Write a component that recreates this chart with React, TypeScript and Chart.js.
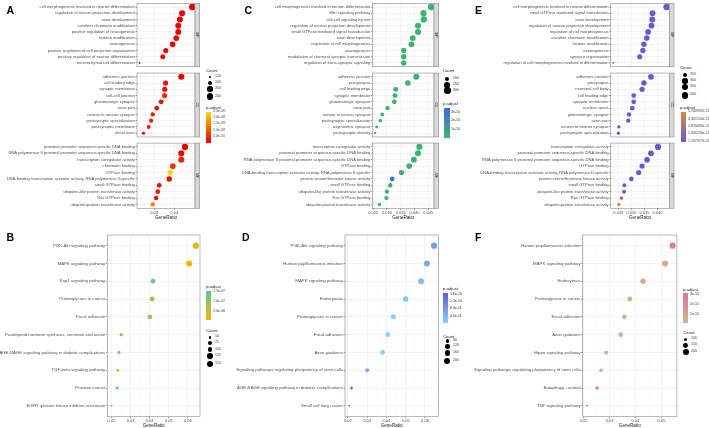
import React, { useEffect, useRef } from 'react';
import { Chart, registerables } from 'chart.js';
Chart.register(...registerables);

const FONT = '"Liberation Sans", Arial, Helvetica, sans-serif';

// ================= Panel A (GO) =================
const A_BP_TERMS = ['cell morphogenesis involved in neuron differentiation', 'regulation of neuron projection development', 'axon development', 'covalent chromatin modification', 'positive regulation of neurogenesis', 'histone modification', 'axonogenesis', 'positive regulation of cell projection organization', 'positive regulation of neuron differentiation', 'mesenchymal cell differentiation'];
const A_BP_RATIO = [0.0490, 0.0439, 0.0428, 0.0420, 0.0420, 0.0410, 0.0392, 0.0358, 0.0343, 0.0228];
const A_BP_COUNT = [245, 220, 214, 210, 210, 205, 196, 179, 172, 114];
const A_BP_PADJ = [2e-12, 3e-11, 2e-11, 5e-11, 6e-11, 8e-11, 1e-10, 1.5e-10, 2e-10, 2.5e-10];

const A_CC_TERMS = ['adherens junction', 'cell leading edge', 'synaptic membrane', 'cell-cell junction', 'glutamatergic synapse', 'axon part', 'neuron to neuron synapse', 'postsynaptic specialization', 'postsynaptic membrane', 'distal axon'];
const A_CC_RATIO = [0.0435, 0.0357, 0.0353, 0.0352, 0.0335, 0.0313, 0.0293, 0.0285, 0.0273, 0.0247];
const A_CC_COUNT = [218, 179, 177, 176, 168, 157, 147, 143, 137, 124];
const A_CC_PADJ = [1e-11, 2e-10, 2e-10, 5e-10, 2e-10, 2e-10, 2.5e-10, 2.5e-10, 3e-10, 3e-10];

const A_MF_TERMS = ['proximal promoter sequence-specific DNA binding', 'RNA polymerase II proximal promoter sequence-specific DNA binding', 'transcription coregulator activity', 'chromatin binding', 'GTPase binding', 'DNA-binding transcription activator activity, RNA polymerase II-specific', 'small GTPase binding', 'ubiquitin-like protein transferase activity', 'Ras GTPase binding', 'ubiquitin-protein transferase activity'];
const A_MF_RATIO = [0.0453, 0.0435, 0.0435, 0.0393, 0.0380, 0.0375, 0.0325, 0.0318, 0.0310, 0.0293];
const A_MF_COUNT = [227, 218, 218, 197, 190, 188, 163, 159, 155, 147];
const A_MF_PADJ = [1e-12, 5e-12, 4e-10, 6e-10, 2.55e-9, 1.5e-10, 2e-10, 3e-10, 3e-10, 1.5e-9];

const A_XTICKS = [0.03, 0.04];
const A_COUNT_LEGEND = [120, 160, 200, 240];
const A_P_LEGEND = [2.5e-9, 2.0e-9, 1.5e-9, 1.0e-9, 5.0e-10];

// ================= Panel C (GO) =================
const C_BP_TERMS = ['cell morphogenesis involved in neuron differentiation', 'Wnt signaling pathway', 'cell-cell signaling by wnt', 'regulation of neuron projection development', 'small GTPase mediated signal transduction', 'axon development', 'regulation of cell morphogenesis', 'axonogenesis', 'modulation of chemical synaptic transmission', 'regulation of trans-synaptic signaling'];
const C_BP_RATIO = [0.0461, 0.0433, 0.0434, 0.0413, 0.0413, 0.0394, 0.0389, 0.0361, 0.0361, 0.0361];
const C_BP_COUNT = [300, 281, 282, 268, 268, 256, 253, 235, 235, 235];
const C_BP_PADJ = [1e-13, 2e-12, 2e-12, 4e-12, 5e-12, 8e-12, 1e-11, 1.5e-11, 1.6e-11, 1.8e-11];

const C_CC_TERMS = ['adherens junction', 'presynapse', 'cell leading edge', 'synaptic membrane', 'glutamatergic synapse', 'axon part', 'neuron to neuron synapse', 'postsynaptic specialization', 'asymmetric synapse', 'postsynaptic density'];
const C_CC_RATIO = [0.0407, 0.0376, 0.0332, 0.0329, 0.0327, 0.0302, 0.0283, 0.0276, 0.0263, 0.0257];
const C_CC_COUNT = [265, 244, 216, 214, 213, 196, 184, 179, 171, 167];
const C_CC_PADJ = [1e-12, 5e-12, 1e-11, 1e-11, 1.2e-11, 1.5e-11, 1.8e-11, 2e-11, 2.2e-11, 2.5e-11];

const C_MF_TERMS = ['transcription coregulator activity', 'proximal promoter sequence-specific DNA binding', 'RNA polymerase II proximal promoter sequence-specific DNA binding', 'GTPase binding', 'DNA-binding transcription activator activity, RNA polymerase II-specific', 'protein serine/threonine kinase activity', 'small GTPase binding', 'ubiquitin-like protein transferase activity', 'Ras GTPase binding', 'ubiquitin-protein transferase activity'];
const C_MF_RATIO = [0.0418, 0.0413, 0.0398, 0.0381, 0.0353, 0.0319, 0.0312, 0.0300, 0.0298, 0.0273];
const C_MF_COUNT = [272, 268, 259, 248, 229, 207, 203, 195, 194, 177];
const C_MF_PADJ = [2e-12, 3e-12, 5e-12, 1e-11, 1.5e-11, 3.5e-10, 2e-11, 2.5e-11, 2.5e-11, 3e-11];

const C_XTICKS = [0.025, 0.03, 0.035, 0.04, 0.045];
const C_COUNT_LEGEND = [200, 250, 300];
const C_P_LEGEND = [3e-10, 2e-10, 1e-10];

// ================= Panel E (GO) =================
const E_BP_TERMS = ['cell morphogenesis involved in neuron differentiation', 'small GTPase mediated signal transduction', 'axon development', 'regulation of neuron projection development', 'regulation of cell morphogenesis', 'covalent chromatin modification', 'histone modification', 'axonogenesis', 'synapse organization', 'regulation of cell morphogenesis involved in differentiation'];
const E_BP_RATIO = [0.0435, 0.0381, 0.0380, 0.0377, 0.0364, 0.0359, 0.0348, 0.0344, 0.0332, 0.0231];
const E_BP_COUNT = [400, 351, 350, 347, 335, 330, 320, 316, 305, 213];
const E_BP_PADJ = [1.537377e-41, 2e-25, 1e-24, 3e-24, 1e-22, 2e-22, 5e-21, 1e-20, 3e-19, 2e-17];

const E_CC_TERMS = ['adherens junction', 'presynapse', 'neuronal cell body', 'cell leading edge', 'synaptic membrane', 'nuclear speck', 'glutamatergic synapse', 'axon part', 'neuron to neuron synapse', 'postsynaptic specialization'];
const E_CC_RATIO = [0.0375, 0.0348, 0.0341, 0.0309, 0.0309, 0.0303, 0.0291, 0.0288, 0.0252, 0.0250];
const E_CC_COUNT = [345, 320, 314, 284, 284, 279, 268, 265, 232, 230];
const E_CC_PADJ = [1e-30, 1e-25, 1e-24, 1e-21, 1e-21, 1e-20, 1e-19, 1e-19, 1e-17, 1e-17];

const E_MF_TERMS = ['transcription coregulator activity', 'proximal promoter sequence-specific DNA binding', 'RNA polymerase II proximal promoter sequence-specific DNA binding', 'GTPase binding', 'DNA-binding transcription activator activity, RNA polymerase II-specific', 'protein serine/threonine kinase activity', 'small GTPase binding', 'ubiquitin-like protein transferase activity', 'Ras GTPase binding', 'ubiquitin-protein transferase activity'];
const E_MF_RATIO = [0.0402, 0.0375, 0.0360, 0.0341, 0.0328, 0.0300, 0.0273, 0.0272, 0.0262, 0.0252];
const E_MF_COUNT = [370, 345, 331, 314, 302, 276, 251, 250, 241, 232];
const E_MF_PADJ = [1e-35, 1e-28, 1e-27, 1e-24, 1e-23, 1e-20, 1e-18, 1e-18, 2.6e-15, 5.740937e-15];

const E_XTICKS = [0.025, 0.03, 0.035, 0.04];
const E_COUNT_LEGEND = [250, 300, 350, 400];
const E_P_LEGEND = [5.740937e-15, 4.305703e-15, 2.870469e-15, 1.435234e-15, 1.537377e-41];

// ================= Panel B (KEGG) =================
const B_TERMS = ['PI3K-Akt signaling pathway', 'MAPK signaling pathway', 'Rap1 signaling pathway', 'Proteoglycans in cancer', 'Focal adhesion', 'Parathyroid hormone synthesis, secretion and action', 'AGE-RAGE signaling pathway in diabetic complications', 'TGF-beta signaling pathway', 'Prostate cancer', 'EGFR tyrosine kinase inhibitor resistance'];
const B_RATIO = [0.0642, 0.0607, 0.0417, 0.0413, 0.0401, 0.0251, 0.0239, 0.0233, 0.0230, 0.0200];
const B_COUNT = [151, 143, 98, 97, 94, 59, 56, 55, 54, 47];
const B_PADJ = [3e-8, 1.15e-8, 1.35e-7, 8e-8, 9e-8, 9.5e-8, 1.0e-7, 4e-8, 1.55e-7, 1.4e-7];
const B_XTICKS = [0.02, 0.03, 0.04, 0.05, 0.06];
const B_COUNT_LEGEND = [50, 75, 100, 125, 150];
const B_P_LEGEND = [1.5e-7, 1.0e-7, 5.0e-8];

// ================= Panel D (KEGG) =================
const D_TERMS = ['PI3K-Akt signaling pathway', 'Human papillomavirus infection', 'MAPK signaling pathway', 'Endocytosis', 'Proteoglycans in cancer', 'Focal adhesion', 'Axon guidance', 'Signaling pathways regulating pluripotency of stem cells', 'AGE-RAGE signaling pathway in diabetic complications', 'Small cell lung cancer'];
const D_RATIO = [0.0647, 0.0610, 0.0580, 0.0500, 0.0436, 0.0407, 0.0380, 0.0300, 0.0219, 0.0207];
const D_COUNT = [210, 198, 189, 163, 142, 132, 124, 98, 71, 67];
const D_PADJ = [8e-11, 5.5e-11, 3e-11, 1.2e-11, 4e-12, 3e-12, 5e-12, 5.5e-11, 1.7e-10, 9.5e-11];
const D_XTICKS = [0.02, 0.03, 0.04, 0.05, 0.06];
const D_COUNT_LEGEND = [80, 120, 160, 200];
const D_P_LEGEND = [1.6e-10, 1.2e-10, 8.0e-11, 4.0e-11];

// ================= Panel F (KEGG) =================
const F_TERMS = ['Human papillomavirus infection', 'MAPK signaling pathway', 'Endocytosis', 'Proteoglycans in cancer', 'Focal adhesion', 'Axon guidance', 'Hippo signaling pathway', 'Signaling pathways regulating pluripotency of stem cells', 'Autophagy - animal', 'TNF signaling pathway'];
const F_RATIO = [0.0543, 0.0514, 0.0429, 0.0378, 0.0357, 0.0343, 0.0287, 0.0267, 0.0252, 0.0213];
const F_COUNT = [217, 206, 172, 151, 143, 137, 115, 107, 101, 85];
const F_PADJ = [2.7e-10, 6e-11, 5e-11, 2e-11, 2e-11, 3e-11, 6e-11, 5e-11, 2.4e-10, 3.2e-10];
const F_XTICKS = [0.02, 0.03, 0.04, 0.05];
const F_COUNT_LEGEND = [100, 150, 200];
const F_P_LEGEND = [3e-10, 2e-10, 1e-10];

// ================= helpers =================
function hexRgb(h: string) {
  const n = parseInt(h.slice(1), 16);
  return [(n >> 16) & 255, (n >> 8) & 255, n & 255];
}
function mix(lo: string, hi: string, t: number) {
  const a = hexRgb(lo), b = hexRgb(hi);
  const c = a.map((v, i) => Math.round(v + (b[i] - v) * Math.max(0, Math.min(1, t))));
  return `rgb(${c[0]},${c[1]},${c[2]})`;
}
function sci(v: number, d: number) {
  const [m, e] = v.toExponential(d).split('e');
  const n = parseInt(e, 10);
  return `${m}e${n < 0 ? '-' : '+'}${String(Math.abs(n)).padStart(2, '0')}`;
}

function makePanel(def: any) {
  const ratios = def.facets.flatMap((f: any) => f.ratio);
  const counts = def.facets.flatMap((f: any) => f.count);
  const ps = def.facets.flatMap((f: any) => f.padj);
  const rmin = Math.min(...ratios), rmax = Math.max(...ratios);
  const ext = (rmax - rmin) * 0.05;
  const cMin = Math.min(...counts), cMax = Math.max(...counts);
  const pMin = Math.min(...ps), pMax = Math.max(...ps);
  return {
    ...def,
    xMin: rmin - ext,
    xMax: rmax + ext,
    pMin, pMax,
    color: (p: number) => mix(def.lo, def.hi, (p - pMin) / (pMax - pMin)),
    radius: (c: number) => def.rMin + (def.rMax - def.rMin) * Math.sqrt(Math.max(0, (c - cMin) / (cMax - cMin))),
  };
}

const PANEL_A = makePanel({
  facets: [
    { terms: A_BP_TERMS, ratio: A_BP_RATIO, count: A_BP_COUNT, padj: A_BP_PADJ, strip: 'BP' },
    { terms: A_CC_TERMS, ratio: A_CC_RATIO, count: A_CC_COUNT, padj: A_CC_PADJ, strip: 'CC' },
    { terms: A_MF_TERMS, ratio: A_MF_RATIO, count: A_MF_COUNT, padj: A_MF_PADJ, strip: 'MF' },
  ],
  lo: '#E60000', hi: '#FFD700', rMin: 1.0, rMax: 3.3, ticks: A_XTICKS, dec: 2,
  countLegend: A_COUNT_LEGEND, pLegend: A_P_LEGEND, pDigits: 1,
});
const PANEL_C = makePanel({
  facets: [
    { terms: C_BP_TERMS, ratio: C_BP_RATIO, count: C_BP_COUNT, padj: C_BP_PADJ, strip: 'BP' },
    { terms: C_CC_TERMS, ratio: C_CC_RATIO, count: C_CC_COUNT, padj: C_CC_PADJ, strip: 'CC' },
    { terms: C_MF_TERMS, ratio: C_MF_RATIO, count: C_MF_COUNT, padj: C_MF_PADJ, strip: 'MF' },
  ],
  lo: '#3CB371', hi: '#4169E1', rMin: 1.1, rMax: 3.3, ticks: C_XTICKS, dec: 3,
  countLegend: C_COUNT_LEGEND, pLegend: C_P_LEGEND, pDigits: 0,
});
const PANEL_E = makePanel({
  facets: [
    { terms: E_BP_TERMS, ratio: E_BP_RATIO, count: E_BP_COUNT, padj: E_BP_PADJ, strip: 'BP' },
    { terms: E_CC_TERMS, ratio: E_CC_RATIO, count: E_CC_COUNT, padj: E_CC_PADJ, strip: 'CC' },
    { terms: E_MF_TERMS, ratio: E_MF_RATIO, count: E_MF_COUNT, padj: E_MF_PADJ, strip: 'MF' },
  ],
  lo: '#6A5ACD', hi: '#D98A3A', rMin: 0.9, rMax: 3.3, ticks: E_XTICKS, dec: 3,
  countLegend: E_COUNT_LEGEND, pLegend: E_P_LEGEND, pDigits: 6,
});
const PANEL_B = makePanel({
  facets: [{ terms: B_TERMS, ratio: B_RATIO, count: B_COUNT, padj: B_PADJ }],
  lo: '#F4B400', hi: '#5CCB9C', rMin: 1.0, rMax: 3.1, ticks: B_XTICKS, dec: 2,
  countLegend: B_COUNT_LEGEND, pLegend: B_P_LEGEND, pDigits: 1,
});
const PANEL_D = makePanel({
  facets: [{ terms: D_TERMS, ratio: D_RATIO, count: D_COUNT, padj: D_PADJ }],
  lo: '#87CEFA', hi: '#6A5ACD', rMin: 1.0, rMax: 3.1, ticks: D_XTICKS, dec: 2,
  countLegend: D_COUNT_LEGEND, pLegend: D_P_LEGEND, pDigits: 1,
});
const PANEL_F = makePanel({
  facets: [{ terms: F_TERMS, ratio: F_RATIO, count: F_COUNT, padj: F_PADJ }],
  lo: '#D2B48C', hi: '#D4789A', rMin: 1.0, rMax: 3.1, ticks: F_XTICKS, dec: 2,
  countLegend: F_COUNT_LEGEND, pLegend: F_P_LEGEND, pDigits: 0,
});

// ================= layout =================
const TOP_ROWS = [
  { top: 0, h: 70, padT: 0.7, padB: 2, xH: 0 },
  { top: 70, h: 70, padT: 0.7, padB: 1.7, xH: 0 },
  { top: 140, h: 82, padT: 0.7, padB: 2.2, xH: 11.5 },
];
const BOTTOM_ROW = { top: 228, h: 200, padT: 7, padB: 0, xH: 11.5 };

const CHARTS: any[] = [];
[
  { panel: PANEL_A, left: 0, w: 206, yW: 137, padR: 11, font: 4.1 },
  { panel: PANEL_C, left: 235, w: 210, yW: 137.3, padR: 11, font: 4.1 },
  { panel: PANEL_E, left: 470, w: 210, yW: 140.7, padR: 10.7, font: 4.1 },
].forEach((col) => {
  col.panel.facets.forEach((f: any, i: number) => {
    CHARTS.push({ panel: col.panel, facet: f, left: col.left, w: col.w, yW: col.yW, padR: col.padR, font: col.font, ...TOP_ROWS[i], showX: i === 2 });
  });
});
[
  { panel: PANEL_B, left: 0, w: 205, yW: 107.3, padR: 5 },
  { panel: PANEL_D, left: 235, w: 210, yW: 110, padR: 6.7 },
  { panel: PANEL_F, left: 470, w: 210, yW: 112.7, padR: 2.7 },
].forEach((col) => {
  CHARTS.push({ panel: col.panel, facet: col.panel.facets[0], left: col.left, w: col.w, yW: col.yW, padR: col.padR, font: 4.3, ...BOTTOM_ROW, showX: true });
});

const LEGENDS = [
  { panel: PANEL_A, countTitle: [206, 70.7], dotX: 210, dotY: [77, 83, 89.3, 96.5], countLabelX: 215, pTitle: [206, 108], bar: [206, 111.7, 5, 31], pLabelX: 213 },
  { panel: PANEL_C, countTitle: [443, 71], dotX: 447.3, dotY: [79, 84.7, 90.7], countLabelX: 453, pTitle: [443, 103.5], bar: [444, 108.3, 5.5, 30], pLabelX: 451 },
  { panel: PANEL_E, countTitle: [680, 68.3], dotX: 685, dotY: [75.3, 81, 87.3, 95.3], countLabelX: 690, pTitle: [680, 108.3], bar: [680.7, 112.3, 5.3, 29.4], pLabelX: 688 },
  { panel: PANEL_B, countTitle: [206, 330.7], dotX: 210, dotY: [337.3, 343.3, 349.7, 356.3, 363.7], countLabelX: 215, pTitle: [206, 286.7], bar: [206, 291, 5, 29], pLabelX: 213 },
  { panel: PANEL_D, countTitle: [443, 336.7], dotX: 447.3, dotY: [341, 346.3, 353, 360.7], countLabelX: 453, pTitle: [443, 289.3], bar: [443.3, 293.3, 5, 30], pLabelX: 450 },
  { panel: PANEL_F, countTitle: [683, 333.3], dotX: 685.7, dotY: [339.3, 345.3, 352.3], countLabelX: 691, pTitle: [683, 289.7], bar: [683.3, 293.3, 5, 30], pLabelX: 690 },
];

const LETTERS = [
  { t: 'A', x: 6.5, y: 9.5 }, { t: 'C', x: 244.5, y: 9.5 }, { t: 'E', x: 475, y: 9.5 },
  { t: 'B', x: 6.5, y: 237 }, { t: 'D', x: 242, y: 236.5 }, { t: 'F', x: 475, y: 236.5 },
];

// ================= chart =================
function DotChart({ spec }: { spec: any }) {
  const ref = useRef<HTMLCanvasElement>(null);
  useEffect(() => {
    const { panel, facet } = spec;
    const n = facet.terms.length;
    const step = panel.ticks[1] - panel.ticks[0];
    const minors: number[] = [];
    for (let v = panel.ticks[0] - step / 2; v < panel.xMax; v += step) if (v > panel.xMin) minors.push(v);
    const allTicks = [...panel.ticks, ...minors].sort((a, b) => a - b);
    const isMajor = (v: number) => panel.ticks.some((t: number) => Math.abs(t - v) < 1e-9);
    const strip = facet.strip;
    const frame = {
      id: 'frame',
      afterDraw(chart: any) {
        const { ctx, chartArea: a } = chart;
        ctx.save();
        ctx.lineWidth = 0.6;
        ctx.strokeStyle = '#8a8a8a';
        ctx.strokeRect(a.left, a.top, a.right - a.left, a.bottom - a.top);
        if (strip) {
          const w = 4.7;
          ctx.fillStyle = '#D9D9D9';
          ctx.fillRect(a.right, a.top, w, a.bottom - a.top);
          ctx.strokeRect(a.right, a.top, w, a.bottom - a.top);
          ctx.translate(a.right + w / 2, (a.top + a.bottom) / 2);
          ctx.rotate(Math.PI / 2);
          ctx.fillStyle = '#1A1A1A';
          ctx.font = `3.6px ${FONT}`;
          ctx.textAlign = 'center';
          ctx.textBaseline = 'middle';
          ctx.fillText(strip, 0, 0);
        }
        ctx.restore();
      },
    };
    const chart = new Chart(ref.current as HTMLCanvasElement, {
      type: 'bubble',
      data: {
        datasets: [{
          data: facet.terms.map((_: string, i: number) => ({ x: facet.ratio[i], y: i, r: panel.radius(facet.count[i]) })),
          backgroundColor: facet.padj.map((p: number) => panel.color(p)),
          borderWidth: 0,
          hoverRadius: 0,
          hoverBorderWidth: 0,
        }],
      },
      options: {
        animation: false,
        responsive: false,
        events: [],
        layout: { padding: { left: 0, right: spec.padR, top: spec.padT, bottom: spec.padB } },
        plugins: { legend: { display: false }, tooltip: { enabled: false } },
        scales: {
          x: {
            type: 'linear',
            bounds: 'data',
            min: panel.xMin,
            max: panel.xMax,
            afterBuildTicks: (ax: any) => { ax.ticks = allTicks.map((v) => ({ value: v })); },
            afterFit: (ax: any) => { ax.height = spec.xH; },
            border: { display: false },
            grid: {
              color: (c: any) => (c.tick && isMajor(c.tick.value) ? '#EBEBEB' : '#F5F5F5'),
              lineWidth: (c: any) => (c.tick && isMajor(c.tick.value) ? 0.6 : 0.4),
              drawTicks: spec.showX,
              tickLength: 1.5,
              tickWidth: 0.5,
              tickColor: (c: any) => (c.tick && isMajor(c.tick.value) ? '#333333' : 'rgba(0,0,0,0)'),
            },
            ticks: {
              display: spec.showX,
              autoSkip: false,
              maxRotation: 0,
              padding: 0.3,
              color: '#4D4D4D',
              font: { size: 4, family: FONT },
              callback: (v: any) => (isMajor(Number(v)) ? Number(v).toFixed(panel.dec) : ''),
            },
            title: { display: spec.showX, text: 'GeneRatio', color: '#1A1A1A', font: { size: 4.6, family: FONT, lineHeight: 1 }, padding: 0 },
          },
          y: {
            type: 'linear',
            bounds: 'data',
            reverse: true,
            min: -0.6,
            max: n - 0.4,
            afterBuildTicks: (ax: any) => { ax.ticks = facet.terms.map((_: string, i: number) => ({ value: i })); },
            afterFit: (ax: any) => { ax.width = spec.yW; },
            border: { display: false },
            grid: { color: '#EBEBEB', lineWidth: 0.6, tickLength: 1.5, tickWidth: 0.5, tickColor: '#333333' },
            ticks: {
              autoSkip: false,
              padding: 0.6,
              color: '#4D4D4D',
              font: { size: spec.font, family: FONT },
              callback: (v: any) => facet.terms[Math.round(Number(v))] ?? '',
            },
          },
        },
      },
      plugins: [frame],
    } as any);
    return () => chart.destroy();
  }, []);
  return (
    <canvas
      ref={ref}
      width={spec.w}
      height={spec.h}
      style={{ position: 'absolute', left: spec.left, top: spec.top, width: spec.w, height: spec.h }}
    />
  );
}

function Txt({ x, y, size, children, bold, color }: any) {
  return (
    <div style={{ position: 'absolute', left: x, top: y, transform: 'translateY(-50%)', fontSize: size, lineHeight: 1, whiteSpace: 'nowrap', fontFamily: FONT, fontWeight: bold ? 700 : 400, color: color || '#1A1A1A' }}>
      {children}
    </div>
  );
}

function Legend({ spec }: { spec: any }) {
  const p = spec.panel;
  const [bx, by, bw, bh] = spec.bar;
  const stops = [0, 0.25, 0.5, 0.75, 1].map((t) => `${mix(p.lo, p.hi, t)} ${t * 100}%`).join(',');
  return (
    <>
      <Txt x={spec.countTitle[0]} y={spec.countTitle[1]} size={4.3}>Count</Txt>
      {p.countLegend.map((c: number, i: number) => {
        const r = p.radius(c);
        return (
          <React.Fragment key={c}>
            <div style={{ position: 'absolute', left: spec.dotX - r, top: spec.dotY[i] - r, width: 2 * r, height: 2 * r, borderRadius: '50%', background: '#000' }} />
            <Txt x={spec.countLabelX} y={spec.dotY[i]} size={3.5} color="#333">{String(c)}</Txt>
          </React.Fragment>
        );
      })}
      <Txt x={spec.pTitle[0]} y={spec.pTitle[1]} size={4.3}>p.adjust</Txt>
      <div style={{ position: 'absolute', left: bx, top: by, width: bw, height: bh, background: `linear-gradient(to top, ${stops})` }} />
      {p.pLegend.map((v: number) => {
        const y = by + ((p.pMax - v) / (p.pMax - p.pMin)) * bh;
        return (
          <React.Fragment key={v}>
            <Txt x={spec.pLabelX} y={y} size={3.5} color="#333">{sci(v, p.pDigits)}</Txt>
          </React.Fragment>
        );
      })}
    </>
  );
}

export default function App() {
  return (
    <div style={{ position: 'fixed', left: 0, top: 0, width: 709, height: 428, background: '#fff', overflow: 'hidden' }}>
      {CHARTS.map((s, i) => <DotChart key={i} spec={s} />)}
      {LEGENDS.map((s, i) => <Legend key={i} spec={s} />)}
      {LETTERS.map((l) => <Txt key={l.t} x={l.x} y={l.y} size={10.5} bold color="#000">{l.t}</Txt>)}
    </div>
  );
}
